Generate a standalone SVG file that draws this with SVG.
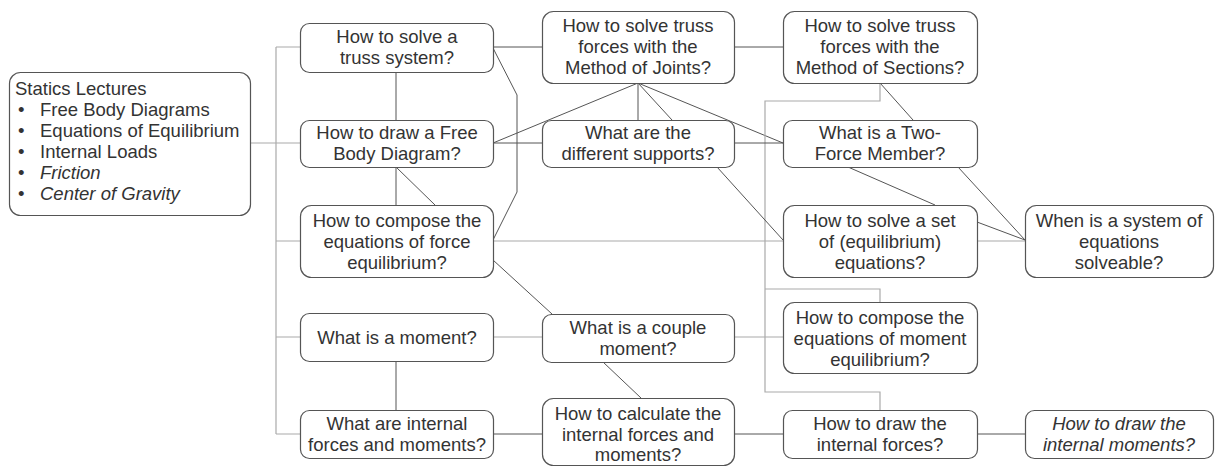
<svg xmlns="http://www.w3.org/2000/svg" width="1215" height="467" viewBox="0 0 1215 467">
<style>
.n rect{fill:#fff;stroke:#555;stroke-width:1.2}
text{font-family:"Liberation Sans",Arial,sans-serif;font-size:18.5px;fill:#333}
.c{text-anchor:middle}
.i{font-style:italic}
.k{fill:none;stroke:#555;stroke-width:1}
.l{fill:none;stroke:#aaa;stroke-width:1.2}
</style>
<rect width="1215" height="467" fill="#fff"/>
<g id="connectors">
<path class="l" d="M276,47 V434 M251,143 H300 M276,47 H300 M276,241 H300 M276,337 H300 M276,434 H300"/>
<path class="k" d="M396,72 V120 M396,167 V205 M396,167 L435,205"/>
<path class="k" d="M493,47 H542 M493,48 L517,95 V192 L493,240"/>
<path class="k" d="M493,143 H542 M493,143 L638,83 M638,83 V120 M638,83 L672,120 M638,83 L783,143"/>
<path class="k" d="M734,47 H783 M880,83 L913,120"/>
<path class="l" d="M880,83 V101 H765 V392 H880 V410 M765,289 H880 V302"/>
<path class="k" d="M734,143 H783 M717,167 L783,240"/>
<path class="l" d="M493,241 H783 M977,241 H1025"/>
<path class="k" d="M493,260 L552,314 M848,167 L935,205 M958,167 L1025,240 M977,222 L1025,240"/>
<path class="l" d="M493,337 H542 M734,337 H783"/>
<path class="k" d="M396,362 V410 M603,362 L641,398 M493,434 H542 M734,434 H783 M977,434 H1025"/>
</g>
<g id="statics" class="n">
<rect x="9.5" y="72.5" width="241" height="143" rx="11"/>
<text x="15" y="95">Statics Lectures</text>
<text x="18" y="116">•</text><text x="40" y="116">Free Body Diagrams</text>
<text x="18" y="137">•</text><text x="40" y="137">Equations of Equilibrium</text>
<text x="18" y="158">•</text><text x="40" y="158">Internal Loads</text>
<text x="18" y="179">•</text><text x="40" y="179" class="i">Friction</text>
<text x="18" y="200">•</text><text x="40" y="200" class="i">Center of Gravity</text>
</g>
<g id="truss" class="n">
<rect x="300.5" y="23.5" width="193" height="49" rx="9"/>
<text class="c" x="397" y="43">How to solve a</text>
<text class="c" x="397" y="64">truss system?</text>
</g>
<g id="fbd" class="n">
<rect x="300.5" y="120.5" width="193" height="47" rx="9"/>
<text class="c" x="397" y="139">How to draw a Free</text>
<text class="c" x="397" y="160">Body Diagram?</text>
</g>
<g id="forceeq" class="n">
<rect x="300.5" y="205.5" width="193" height="72" rx="11"/>
<text class="c" x="397" y="227">How to compose the</text>
<text class="c" x="397" y="248">equations of force</text>
<text class="c" x="397" y="269">equilibrium?</text>
</g>
<g id="moment" class="n">
<rect x="300.5" y="313.5" width="193" height="48" rx="9"/>
<text class="c" x="397" y="344">What is a moment?</text>
</g>
<g id="internal" class="n">
<rect x="300.5" y="410.5" width="193" height="48" rx="9"/>
<text class="c" x="397" y="430">What are internal</text>
<text class="c" x="397" y="451">forces and moments?</text>
</g>
<g id="joints" class="n">
<rect x="542.5" y="11.5" width="192" height="72" rx="11"/>
<text class="c" x="638" y="32">How to solve truss</text>
<text class="c" x="638" y="53">forces with the</text>
<text class="c" x="638" y="74">Method of Joints?</text>
</g>
<g id="supports" class="n">
<rect x="542.5" y="120.5" width="192" height="47" rx="9"/>
<text class="c" x="638" y="139">What are the</text>
<text class="c" x="638" y="160">different supports?</text>
</g>
<g id="couple" class="n">
<rect x="542.5" y="314.5" width="192" height="48" rx="9"/>
<text class="c" x="638" y="334">What is a couple</text>
<text class="c" x="638" y="355">moment?</text>
</g>
<g id="calc" class="n">
<rect x="542.5" y="398.5" width="192" height="67" rx="11"/>
<text class="c" x="638" y="420">How to calculate the</text>
<text class="c" x="638" y="441">internal forces and</text>
<text class="c" x="638" y="461">moments?</text>
</g>
<g id="sections" class="n">
<rect x="783.5" y="11.5" width="194" height="72" rx="11"/>
<text class="c" x="880" y="32">How to solve truss</text>
<text class="c" x="880" y="53">forces with the</text>
<text class="c" x="880" y="74">Method of Sections?</text>
</g>
<g id="twoforce" class="n">
<rect x="783.5" y="120.5" width="194" height="47" rx="9"/>
<text class="c" x="880" y="139">What is a Two-</text>
<text class="c" x="880" y="160">Force Member?</text>
</g>
<g id="solveset" class="n">
<rect x="783.5" y="205.5" width="194" height="72" rx="11"/>
<text class="c" x="880" y="227">How to solve a set</text>
<text class="c" x="880" y="248">of (equilibrium)</text>
<text class="c" x="880" y="269">equations?</text>
</g>
<g id="momenteq" class="n">
<rect x="783.5" y="302.5" width="194" height="71" rx="11"/>
<text class="c" x="880" y="324">How to compose the</text>
<text class="c" x="880" y="345">equations of moment</text>
<text class="c" x="880" y="366">equilibrium?</text>
</g>
<g id="drawforces" class="n">
<rect x="783.5" y="410.5" width="194" height="48" rx="9"/>
<text class="c" x="880" y="430">How to draw the</text>
<text class="c" x="880" y="451">internal forces?</text>
</g>
<g id="solveable" class="n">
<rect x="1025.5" y="205.5" width="188" height="72" rx="11"/>
<text class="c" x="1119" y="227">When is a system of</text>
<text class="c" x="1119" y="248">equations</text>
<text class="c" x="1119" y="269">solveable?</text>
</g>
<g id="drawmoments" class="n">
<rect x="1025.5" y="410.5" width="188" height="48" rx="9"/>
<text class="c i" x="1119" y="430">How to draw the</text>
<text class="c i" x="1119" y="451">internal moments?</text>
</g>
</svg>
